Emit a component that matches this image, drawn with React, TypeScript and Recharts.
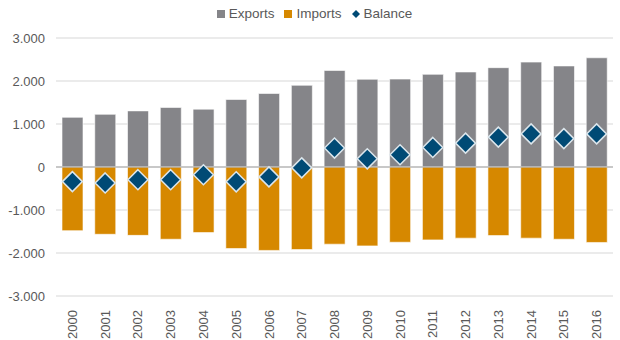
import React from "react";
import {
  ComposedChart,
  Bar,
  Line,
  XAxis,
  YAxis,
  CartesianGrid,
  ReferenceLine,
  Legend,
} from "recharts";

const years = [
  "2000", "2001", "2002", "2003", "2004", "2005", "2006", "2007", "2008",
  "2009", "2010", "2011", "2012", "2013", "2014", "2015", "2016",
];
const exportsVals = [
  1155, 1225, 1305, 1385, 1345, 1570, 1710, 1900, 2245, 2040, 2045, 2155, 2210,
  2310, 2440, 2350, 2540,
];
const importsVals = [
  -1480, -1565, -1590, -1680, -1525, -1895, -1940, -1920, -1795, -1835, -1750,
  -1695, -1655, -1595, -1655, -1680, -1755,
];
const balanceVals = [
  -340, -370, -295, -295, -180, -345, -230, -20, 440, 190, 285, 455, 555, 695,
  770, 660, 770,
];
const yTicks = [-3000, -2000, -1000, 0, 1000, 2000, 3000];

const data = years.map((year, i) => ({
  year,
  Exports: exportsVals[i],
  Imports: importsVals[i],
  Balance: balanceVals[i],
}));

const GRAY = "#858589";
const ORANGE = "#D68800";
const BLUE = "#004A75";
const TEXT = "#595959";

const fmt = (v: number) =>
  v === 0 ? "0" : (v < 0 ? "-" : "") + Math.abs(v / 1000).toFixed(3);

function Diamond(props: any) {
  const { cx, cy, index } = props;
  if (cx == null || cy == null) return null;
  const r = 10;
  return (
    <polygon
      key={`d-${index}`}
      points={`${cx},${cy - r} ${cx + r},${cy} ${cx},${cy + r} ${cx - r},${cy}`}
      fill={BLUE}
      stroke="#DCE6EC"
      strokeWidth={1.5}
    />
  );
}

function YearTick(props: any) {
  const { x, y, payload } = props;
  return (
    <g transform={`translate(${x},${y})`}>
      <text
        transform="rotate(-90)"
        x={-6}
        y={0}
        dy="0.35em"
        textAnchor="end"
        fill={TEXT}
        fontSize={13}
      >
        {payload.value}
      </text>
    </g>
  );
}

function LegendContent() {
  const item: React.CSSProperties = {
    display: "flex",
    alignItems: "center",
    marginRight: 10,
  };
  return (
    <div
      style={{
        display: "flex",
        justifyContent: "center",
        fontSize: 13.5,
        color: TEXT,
        paddingLeft: 26,
      }}
    >
      <div style={item}>
        <span style={{ width: 8, height: 8, background: GRAY, marginRight: 4 }} />
        Exports
      </div>
      <div style={item}>
        <span style={{ width: 8, height: 8, background: ORANGE, marginRight: 4 }} />
        Imports
      </div>
      <div style={item}>
        <svg width={8} height={8} style={{ marginRight: 4 }}>
          <polygon points="4,0 8,4 4,8 0,4" fill={BLUE} />
        </svg>
        Balance
      </div>
    </div>
  );
}

export default function App() {
  return (
    <div style={{ position: "absolute", left: 0, top: 0 }}>
      <ComposedChart
        width={620}
        height={340}
        data={data}
        stackOffset="sign"
        margin={{ top: 38, right: 7, bottom: 4, left: 0 }}
        style={{ fontFamily: "'Liberation Sans', Arial, sans-serif" }}
      >
        <CartesianGrid vertical={false} stroke="#E4E4E4" strokeWidth={1.3} />
        <XAxis
          dataKey="year"
          axisLine={false}
          tickLine={false}
          interval={0}
          height={40}
          tick={<YearTick />}
        />
        <YAxis
          domain={[-3000, 3000]}
          ticks={yTicks}
          tickFormatter={fmt}
          axisLine={false}
          tickLine={false}
          tickMargin={5}
          width={56}
          tick={{ fill: TEXT, fontSize: 13 }}
        />
        <Legend
          verticalAlign="middle"
          align="center"
          wrapperStyle={{ top: 6 }}
          content={<LegendContent />}
        />
        <Bar
          dataKey="Exports"
          stackId="a"
          barSize={21}
          fill={GRAY}
          stroke="#FFFFFF"
          strokeWidth={0.6}
          isAnimationActive={false}
        />
        <Bar
          dataKey="Imports"
          stackId="a"
          barSize={21}
          fill={ORANGE}
          stroke="#FFFFFF"
          strokeWidth={0.6}
          isAnimationActive={false}
        />
        <ReferenceLine y={0} stroke="#A6A6A6" strokeWidth={1.2} />
        <Line
          dataKey="Balance"
          stroke="none"
          dot={<Diamond />}
          activeDot={false}
          legendType="diamond"
          isAnimationActive={false}
        />
      </ComposedChart>
    </div>
  );
}
